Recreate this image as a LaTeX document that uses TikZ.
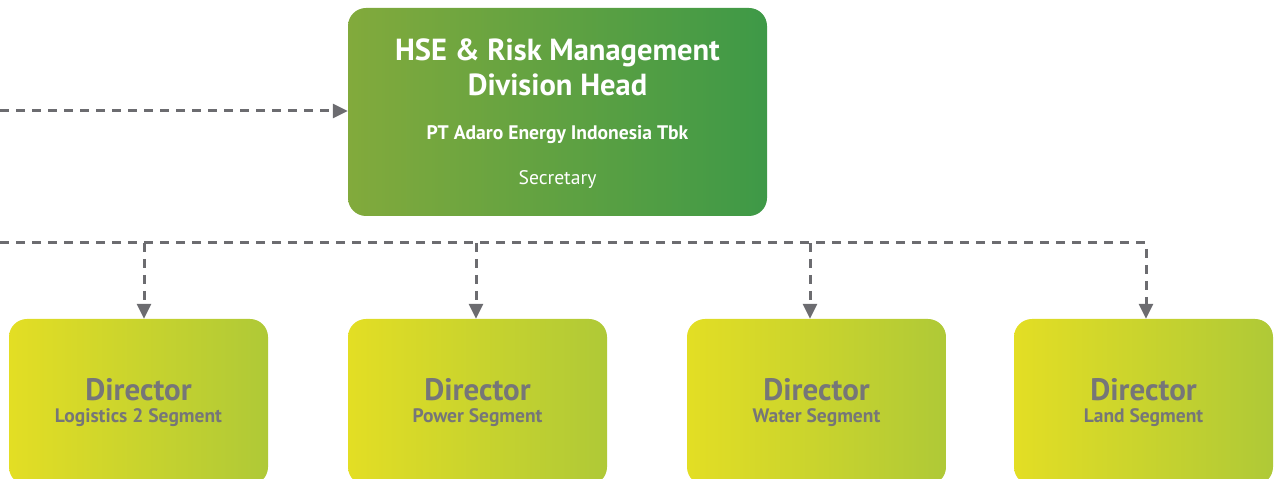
\documentclass[tikz,border=0pt]{standalone}
\usepackage{fontspec}
\setmainfont{PT Sans}
\usetikzlibrary{arrows.meta}
\definecolor{hgreenL}{RGB}{130,170,60}
\definecolor{hgreenR}{RGB}{62,153,71}
\definecolor{dyelL}{RGB}{227,222,36}
\definecolor{dyelR}{RGB}{175,201,55}
\definecolor{dtext}{RGB}{118,118,120}
\definecolor{lgray}{RGB}{108,108,112}
\tikzset{
  headbox/.style={rounded corners=18pt, left color=hgreenL, right color=hgreenR, draw=none,
    minimum width=419pt, minimum height=208pt, inner sep=0pt},
  dirbox/.style={rounded corners=18pt, left color=dyelL, right color=dyelR, draw=none,
    minimum width=259pt, minimum height=166pt, inner sep=0pt},
  conn/.style={draw=lgray, line width=3pt, dash pattern=on 9pt off 7pt},
  arr/.style={conn, -{Triangle[length=15pt,width=14pt]}},
  htitle/.style={text=white, font=\bfseries\fontsize{30.5}{34}\selectfont, anchor=base, inner sep=0pt},
  hsub/.style={text=white, font=\bfseries\fontsize{19.6}{22}\selectfont, anchor=base, inner sep=0pt},
  hsec/.style={text=white, font=\fontsize{19.6}{22}\selectfont, anchor=base, inner sep=0pt},
  dtitle/.style={text=dtext, font=\bfseries\fontsize{31}{34}\selectfont, anchor=base, inner sep=0pt},
  dsub/.style={text=dtext, font=\bfseries\fontsize{19.5}{22}\selectfont, anchor=base, inner sep=0pt},
}
\begin{document}
\begin{tikzpicture}[x=1pt,y=1pt]
\useasboundingbox (0,0) rectangle (1278,479);
\clip (0,0) rectangle (1278,479);
% head box
\node[headbox] (head) at (557.5,367) {};
\node[htitle] (h1) at (557.5,418) {HSE \& Risk Management};
\node[htitle] (h2) at (557.5,383) {Division Head};
\node[hsub] (h3) at (557.5,339) {PT Adaro Energy Indonesia Tbk};
\node[hsec] (h4) at (557.5,294) {Secretary};
% director boxes
\node[dirbox] (d1) at (138.5,77) {};
\node[dirbox] (d2) at (477.5,77) {};
\node[dirbox] (d3) at (816.5,77) {};
\node[dirbox] (d4) at (1143.5,77) {};
\node[dtitle] (t1) at (138.5,78) {Director};
\node[dsub] (s1) at (138.5,56) {Logistics 2 Segment};
\node[dtitle] (t2) at (477.5,78) {Director};
\node[dsub] (s2) at (477.5,56) {Power Segment};
\node[dtitle] (t3) at (816.5,78) {Director};
\node[dsub] (s3) at (816.5,56) {Water Segment};
\node[dtitle] (t4) at (1143.5,78) {Director};
\node[dsub] (s4) at (1143.5,56) {Land Segment};
% connectors
\coordinate (in0) at (0,368);
\coordinate (bus0) at (0,236);
\coordinate (j1) at (144,236);
\coordinate (j2) at (476,236);
\coordinate (j3) at (810,236);
\coordinate (j4) at (1146,236);
\draw[arr] (in0) -- (in0 -| head.west);
\draw[arr] (bus0) -- (j4) -- (j4 |- d4.north);
\draw[arr] (j1) -- (j1 |- d1.north);
\draw[arr] (j2) -- (j2 |- d2.north);
\draw[arr] (j3) -- (j3 |- d3.north);
\end{tikzpicture}
\end{document}
